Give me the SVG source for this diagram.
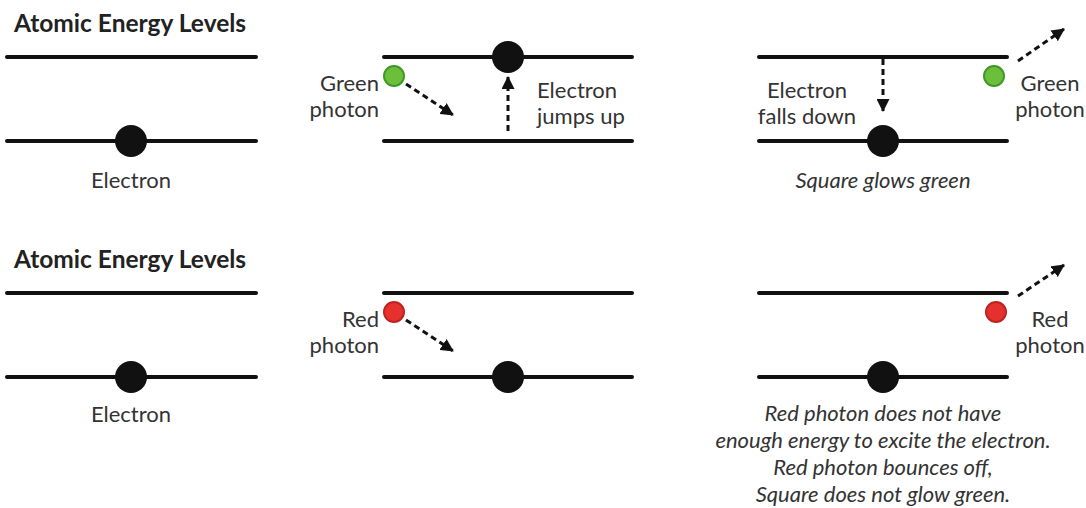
<svg xmlns="http://www.w3.org/2000/svg" width="1086" height="508" viewBox="0 0 1086 508">
<style>
.lvl{stroke:#111;stroke-width:4;stroke-linecap:round}
.el{fill:#111}
.t{font-family:Lato,"Liberation Sans",sans-serif;font-size:22px;fill:#333}
.h{font-family:Lato,"Liberation Sans",sans-serif;font-size:24.5px;font-weight:bold;fill:#222}
.i{font-style:italic}
.arr{stroke:#111;stroke-width:3;stroke-dasharray:6 4;fill:none}
.g{fill:#6cbf3a;stroke:#3f9a25;stroke-width:2}
.r{fill:#e5302d;stroke:#c02222;stroke-width:2}
</style>
<defs>
<marker id="ah" viewBox="0 0 13 13" refX="12" refY="6.5" markerWidth="13" markerHeight="13" orient="auto" markerUnits="userSpaceOnUse">
<path d="M0,0 L13,6.5 L0,13 z" fill="#111"/>
</marker>
</defs>
<rect width="1086" height="508" fill="#fff"/>
<g id="title1"><text class="h" x="14" y="32">Atomic Energy Levels</text></g>
<g id="title2"><text class="h" x="14" y="268">Atomic Energy Levels</text></g>

<g id="p1a">
<line class="lvl" x1="7" y1="57" x2="256" y2="57"/>
<line class="lvl" x1="7" y1="141" x2="256" y2="141"/>
<circle class="el" cx="131" cy="141" r="16"/>
<text class="t" x="131" y="188" text-anchor="middle">Electron</text>
</g>
<g id="p2a">
<line class="lvl" x1="384" y1="57" x2="632" y2="57"/>
<line class="lvl" x1="384" y1="141" x2="632" y2="141"/>
<circle class="el" cx="508" cy="57" r="16"/>
<circle class="g" cx="394" cy="76" r="10"/>
<text class="t" x="379" y="91" text-anchor="end">Green</text>
<text class="t" x="379" y="117" text-anchor="end">photon</text>
<text class="t" x="537" y="98">Electron</text>
<text class="t" x="537" y="124">jumps up</text>
</g>
<g id="p3a">
<line class="lvl" x1="759" y1="57" x2="1007" y2="57"/>
<line class="lvl" x1="759" y1="141" x2="1007" y2="141"/>
<circle class="el" cx="883" cy="141" r="16"/>
<circle class="g" cx="994" cy="76" r="10"/>
<text class="t" x="807" y="98" text-anchor="middle">Electron</text>
<text class="t" x="807" y="124" text-anchor="middle">falls down</text>
<text class="t" x="1050" y="91" text-anchor="middle">Green</text>
<text class="t" x="1050" y="117" text-anchor="middle">photon</text>
<text class="t i" x="883" y="188" text-anchor="middle">Square glows green</text>
</g>

<g id="p1b">
<line class="lvl" x1="7" y1="293" x2="256" y2="293"/>
<line class="lvl" x1="7" y1="377" x2="256" y2="377"/>
<circle class="el" cx="131" cy="377" r="16"/>
<text class="t" x="131" y="422" text-anchor="middle">Electron</text>
</g>
<g id="p2b">
<line class="lvl" x1="384" y1="293" x2="632" y2="293"/>
<line class="lvl" x1="384" y1="377" x2="632" y2="377"/>
<circle class="el" cx="508" cy="377" r="16"/>
<circle class="r" cx="394" cy="312" r="10"/>
<text class="t" x="379" y="327" text-anchor="end">Red</text>
<text class="t" x="379" y="353" text-anchor="end">photon</text>
</g>
<g id="p3b">
<line class="lvl" x1="759" y1="293" x2="1007" y2="293"/>
<line class="lvl" x1="759" y1="377" x2="1007" y2="377"/>
<circle class="el" cx="883" cy="377" r="16"/>
<circle class="r" cx="996" cy="312" r="10"/>
<text class="t" x="1050" y="327" text-anchor="middle">Red</text>
<text class="t" x="1050" y="353" text-anchor="middle">photon</text>
<text class="t i" x="883" y="421" text-anchor="middle">Red photon does not have</text>
<text class="t i" x="883" y="448" text-anchor="middle">enough energy to excite the electron.</text>
<text class="t i" x="883" y="475" text-anchor="middle">Red photon bounces off,</text>
<text class="t i" x="883" y="502" text-anchor="middle">Square does not glow green.</text>
</g>

<g id="connectors">
<line class="arr" x1="406" y1="84" x2="453" y2="115" marker-end="url(#ah)"/>
<line class="arr" x1="508" y1="131" x2="508" y2="77" marker-end="url(#ah)"/>
<line class="arr" x1="883" y1="59" x2="883" y2="111" marker-end="url(#ah)"/>
<line class="arr" x1="1018" y1="61" x2="1064" y2="29" marker-end="url(#ah)"/>
<line class="arr" x1="406" y1="320" x2="453" y2="351" marker-end="url(#ah)"/>
<line class="arr" x1="1018" y1="296" x2="1064" y2="265" marker-end="url(#ah)"/>
</g>
</svg>
